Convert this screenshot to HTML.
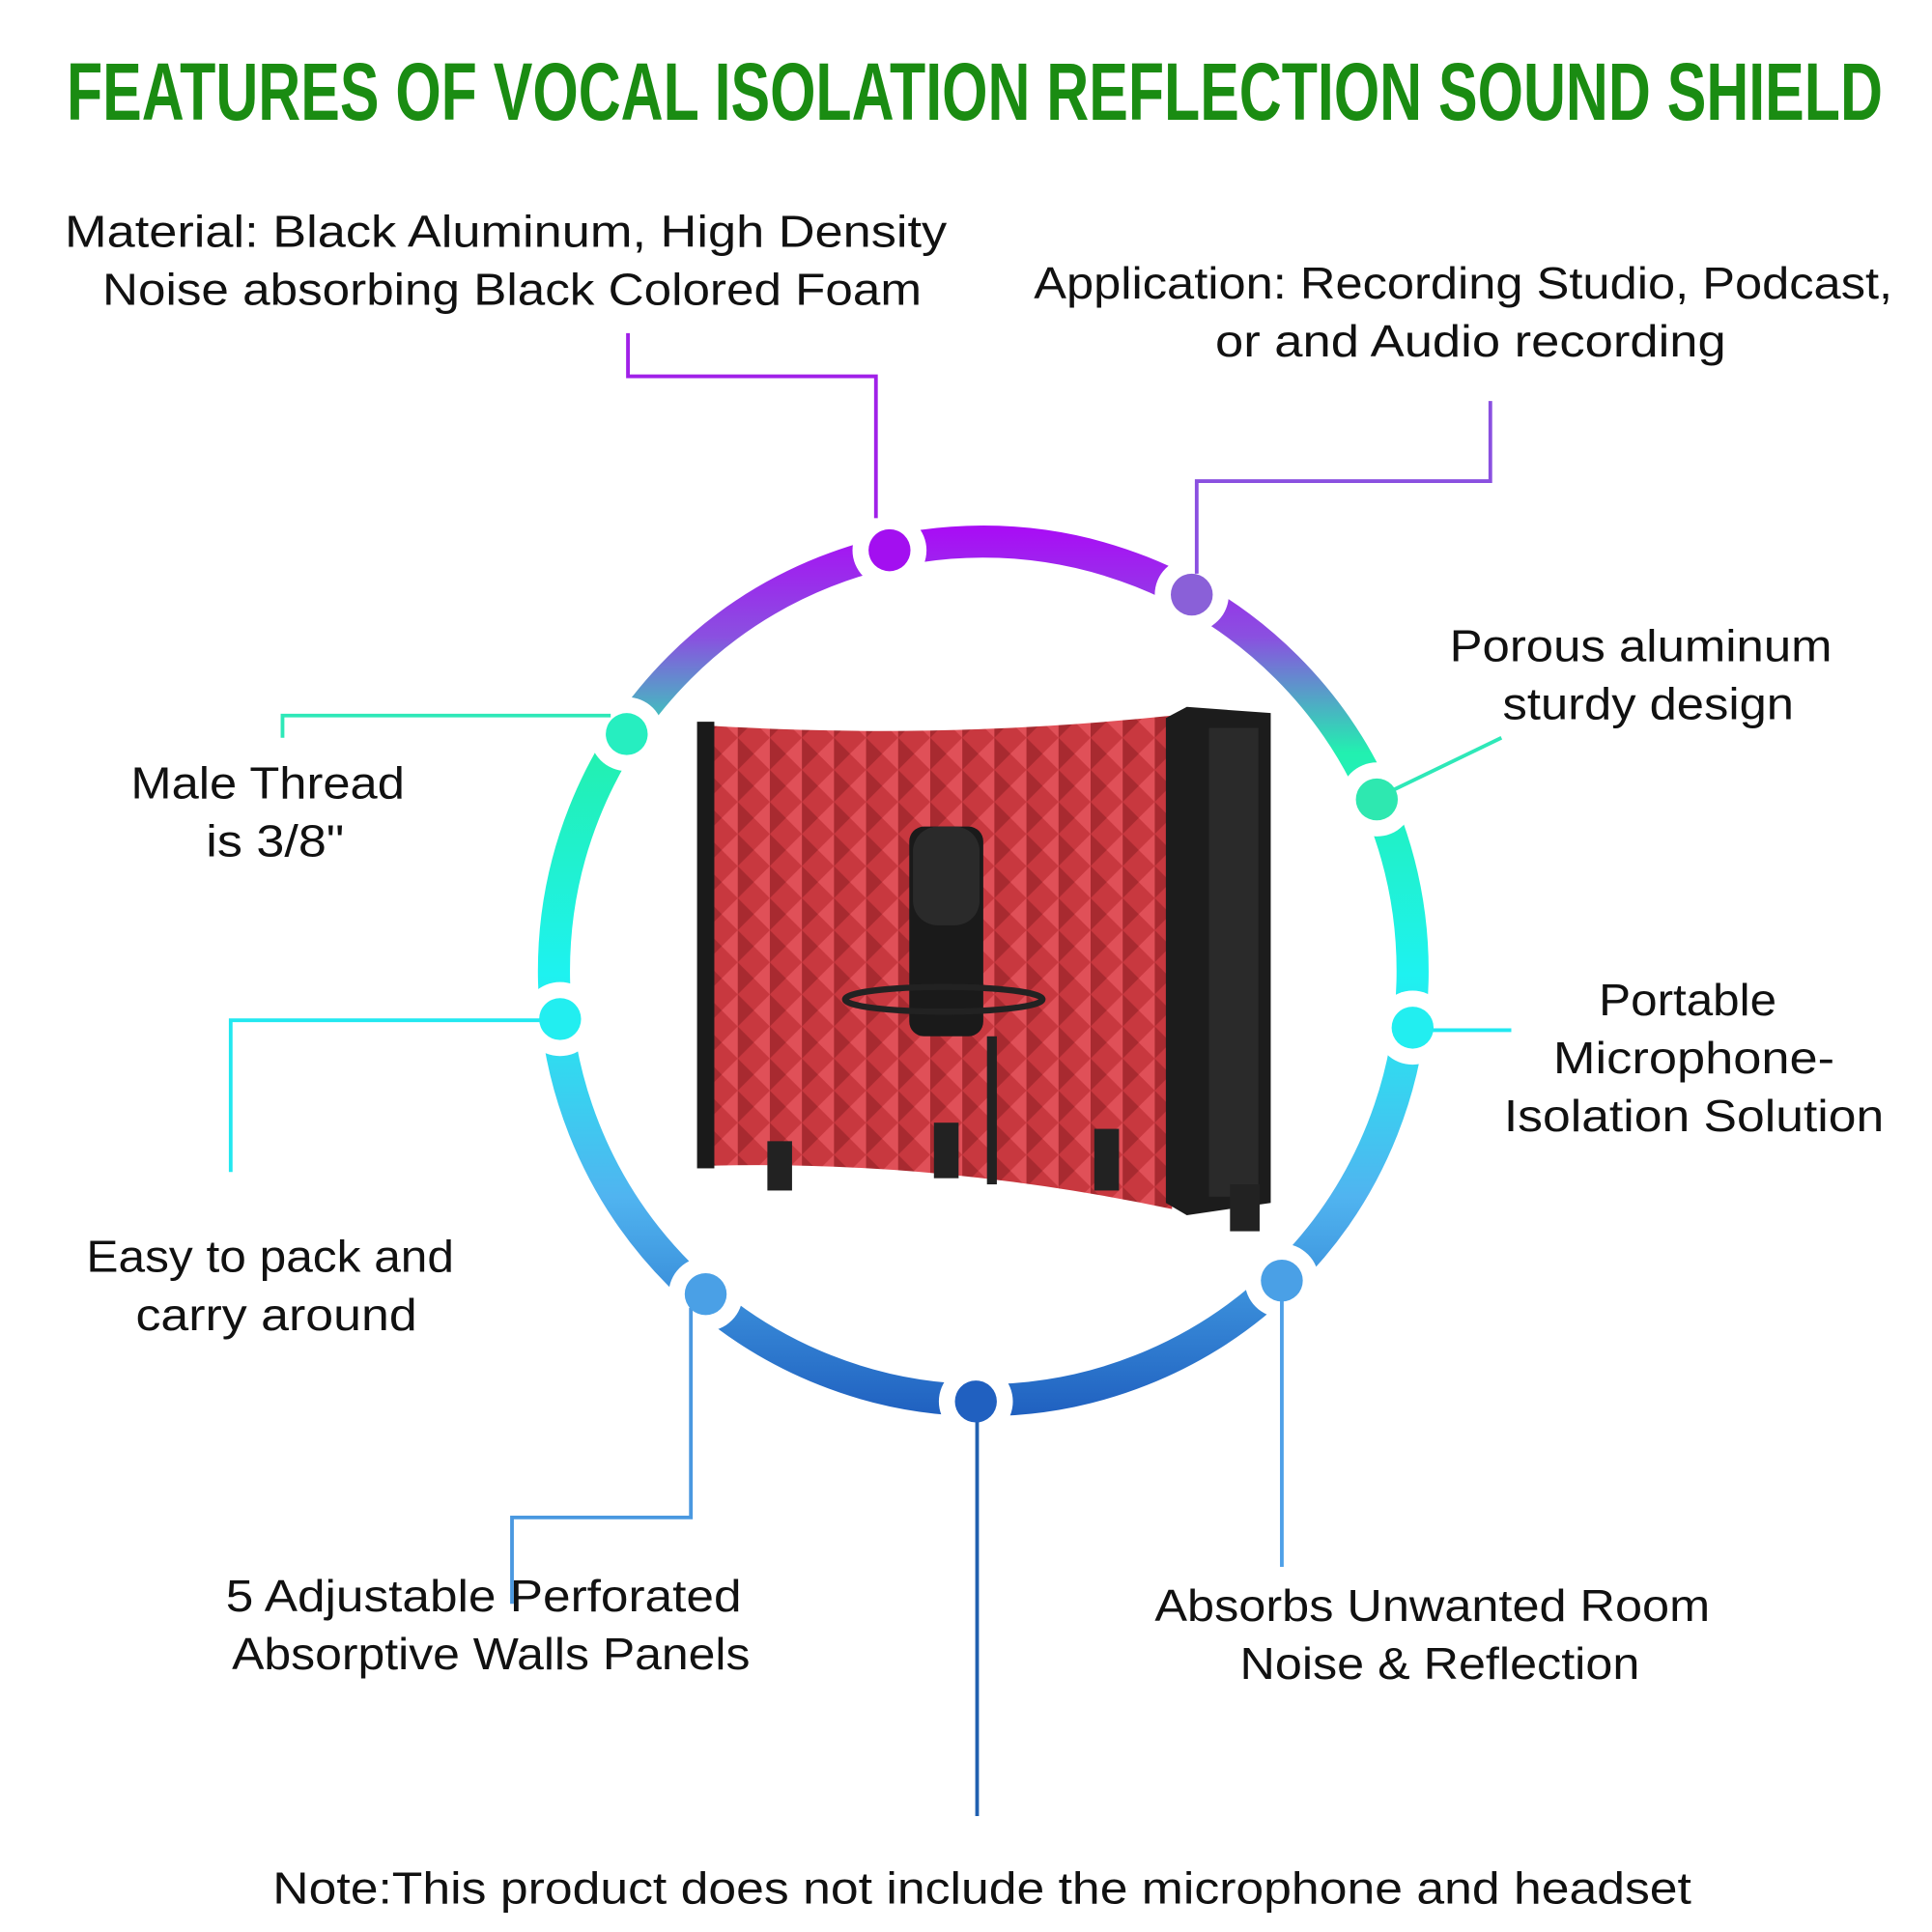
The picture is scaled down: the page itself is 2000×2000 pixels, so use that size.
<!DOCTYPE html>
<html><head><meta charset="utf-8"><style>html,body{margin:0;padding:0;background:#fff}svg{display:block}</style></head>
<body>
<svg width="2000" height="2000" viewBox="0 0 1566 1566" xmlns="http://www.w3.org/2000/svg" font-family="Liberation Sans, sans-serif">
<defs>
<linearGradient id="g" x1="0" y1="430" x2="0" y2="1150" gradientUnits="userSpaceOnUse">
<stop offset="0" stop-color="#a80ef5"/><stop offset="0.12" stop-color="#8a50e0"/><stop offset="0.25" stop-color="#22f0b0"/><stop offset="0.5" stop-color="#1ef2f0"/><stop offset="0.75" stop-color="#50b4f0"/><stop offset="1" stop-color="#1f5fbf"/>
</linearGradient>
<pattern id="foam" width="26" height="26" patternUnits="userSpaceOnUse"><rect width="26" height="26" fill="#c8383f"/><path d="M0 0L13 13L0 26Z" fill="#a82a30"/><path d="M26 0L13 13L26 26Z" fill="#e05058"/></pattern>
</defs>
<text x="790" y="97" text-anchor="middle" font-family="Liberation Sans Narrow, Liberation Sans, sans-serif" font-weight="bold" font-size="66" fill="#1a8c12" textLength="1472" lengthAdjust="spacingAndGlyphs">FEATURES OF VOCAL ISOLATION REFLECTION SOUND SHIELD</text>
<circle cx="797" cy="787" r="348" fill="none" stroke="url(#g)" stroke-width="26"/>
<g fill="#fff">
<circle cx="721" cy="446" r="30"/><circle cx="966" cy="482" r="30"/><circle cx="1116" cy="648" r="30"/><circle cx="1145" cy="833" r="30"/><circle cx="1039" cy="1038" r="30"/><circle cx="791" cy="1136" r="30"/><circle cx="572" cy="1049" r="30"/><circle cx="454" cy="826" r="30"/><circle cx="508" cy="595" r="30"/>
</g>
<g fill="none" stroke-width="3">
<polyline points="509,270 509,305 710,305 710,420" stroke="#a020e8"/>
<polyline points="1208,325 1208,390 970,390 970,465" stroke="#8a50e0"/>
<polyline points="1217,598 1130,640" stroke="#2ee8b8"/>
<polyline points="1160,835 1225,835" stroke="#22e8f0"/>
<polyline points="1039,1050 1039,1270" stroke="#4ea0e8"/>
<polyline points="792,1150 792,1472" stroke="#2060b0"/>
<polyline points="560,1060 560,1230 415,1230 415,1300" stroke="#4a98e0"/>
<polyline points="440,827 187,827 187,950" stroke="#22e8f0"/>
<polyline points="495,580 229,580 229,598" stroke="#2ee8b8"/>
</g>
<circle cx="721" cy="446" r="17" fill="#a30ff0"/><circle cx="966" cy="482" r="17" fill="#8a60d8"/><circle cx="1116" cy="648" r="17" fill="#2ee8b0"/><circle cx="1145" cy="833" r="17" fill="#22eef0"/><circle cx="1039" cy="1038" r="17" fill="#4aa0e6"/><circle cx="791" cy="1136" r="17" fill="#2060c0"/><circle cx="572" cy="1049" r="17" fill="#4aa0e6"/><circle cx="454" cy="826" r="17" fill="#22eef0"/><circle cx="508" cy="595" r="17" fill="#26eec0"/>
<path d="M572 588 Q760 600 950 580 L950 980 Q760 940 572 945 Z" fill="url(#foam)"/>
<rect x="565" y="585" width="14" height="362" fill="#1a1a1a"/>
<path d="M945 582 L962 573 L1030 578 L1030 975 L962 985 L945 975 Z" fill="#1c1c1c"/>
<rect x="980" y="590" width="40" height="380" fill="#2a2a2a"/>
<rect x="737" y="670" width="60" height="170" rx="12" fill="#1a1a1a"/>
<rect x="740" y="670" width="54" height="80" rx="20" fill="#2a2a2a"/>
<ellipse cx="765" cy="810" rx="80" ry="10" fill="none" stroke="#222" stroke-width="5"/>
<rect x="800" y="840" width="8" height="120" fill="#222"/>
<g fill="#222"><rect x="622" y="925" width="20" height="40"/><rect x="757" y="910" width="20" height="45"/><rect x="887" y="915" width="20" height="50"/><rect x="997" y="960" width="24" height="38"/></g>
<g font-size="36" fill="#111" text-anchor="middle">
<text x="410" y="200" textLength="715" lengthAdjust="spacingAndGlyphs">Material: Black Aluminum, High Density</text>
<text x="415" y="247" textLength="664" lengthAdjust="spacingAndGlyphs">Noise absorbing Black Colored Foam</text>
<text x="1186" y="242" textLength="696" lengthAdjust="spacingAndGlyphs">Application: Recording Studio, Podcast,</text>
<text x="1192" y="289" textLength="414" lengthAdjust="spacingAndGlyphs">or and Audio recording</text>
<text x="1330" y="536" textLength="310" lengthAdjust="spacingAndGlyphs">Porous aluminum</text>
<text x="1336" y="583" textLength="236" lengthAdjust="spacingAndGlyphs">sturdy design</text>
<text x="217" y="647" textLength="222" lengthAdjust="spacingAndGlyphs">Male Thread</text>
<text x="223" y="694" textLength="112" lengthAdjust="spacingAndGlyphs">is 3/8"</text>
<text x="1368" y="823" textLength="144" lengthAdjust="spacingAndGlyphs">Portable</text>
<text x="1373" y="870" textLength="228" lengthAdjust="spacingAndGlyphs">Microphone-</text>
<text x="1373" y="917" textLength="308" lengthAdjust="spacingAndGlyphs">Isolation Solution</text>
<text x="219" y="1031" textLength="298" lengthAdjust="spacingAndGlyphs">Easy to pack and</text>
<text x="224" y="1078" textLength="228" lengthAdjust="spacingAndGlyphs">carry around</text>
<text x="392" y="1306" textLength="418" lengthAdjust="spacingAndGlyphs">5 Adjustable Perforated</text>
<text x="398" y="1353" textLength="420" lengthAdjust="spacingAndGlyphs">Absorptive Walls Panels</text>
<text x="1161" y="1314" textLength="450" lengthAdjust="spacingAndGlyphs">Absorbs Unwanted Room</text>
<text x="1167" y="1361" textLength="324" lengthAdjust="spacingAndGlyphs">Noise &amp; Reflection</text>
<text x="796" y="1543" textLength="1150" lengthAdjust="spacingAndGlyphs">Note:This product does not include the microphone and headset</text>
</g>
</svg>
</body></html>
